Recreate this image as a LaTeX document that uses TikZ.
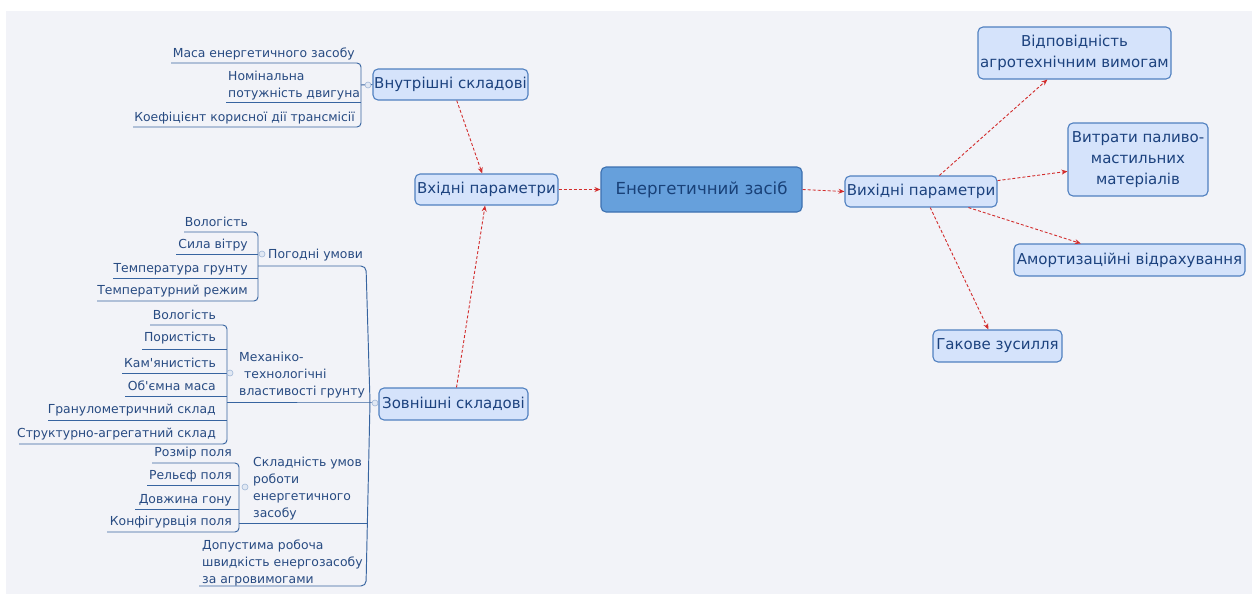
\documentclass[tikz,border=0pt]{standalone}
\usepackage{fontspec}
\newfontfamily\dv{DejaVu Sans}
\usetikzlibrary{arrows.meta,calc}
\definecolor{bgc}{RGB}{242,243,248}
\definecolor{boxfill}{RGB}{213,227,251}
\definecolor{boxdraw}{RGB}{80,128,192}
\definecolor{boxtext}{RGB}{28,66,126}
\definecolor{mainfill}{RGB}{102,160,220}
\definecolor{maindraw}{RGB}{60,112,176}
\definecolor{maintext}{RGB}{25,65,120}
\definecolor{treeline}{RGB}{55,100,160}
\definecolor{leaftext}{RGB}{40,75,130}
\definecolor{arrowred}{RGB}{210,45,45}
\definecolor{knobfill}{RGB}{225,232,243}
\definecolor{knobdraw}{RGB}{160,182,215}
\begin{document}
\begin{tikzpicture}[x=1pt,y=-1pt,
  box/.style={draw=boxdraw, fill=boxfill, line width=1.1pt, rounded corners=5pt, text=boxtext, font=\dv\fontsize{15}{21}\selectfont, align=center, inner sep=0pt},
  mainbox/.style={draw=maindraw, fill=mainfill, line width=1.1pt, rounded corners=5pt, text=maintext, font=\dv\fontsize{16.6}{20}\selectfont, inner sep=0pt},
  leaf/.style={text=leaftext, font=\dv\fontsize{12.4}{17}\selectfont, inner sep=0pt, align=left},
  tree/.style={draw=treeline, line width=0.95pt, rounded corners=4pt},
  knob/.style={circle, draw=knobdraw, fill=knobfill, minimum size=6pt, inner sep=0pt, line width=0.6pt},
  flow/.style={draw=arrowred, line width=0.9pt, dash pattern=on 3pt off 2pt, -{Stealth[length=6pt,width=5pt]}},
]
\useasboundingbox (0,0) rectangle (1252,594);
\fill[white] (0,0) rectangle (1252,594);
\fill[bgc] (6,11) rectangle (1252,594);

% main boxes
\node[mainbox, minimum width=201pt, minimum height=45pt] (main) at (701.5,189.5) {Енергетичний засіб};
\node[box, minimum width=143pt, minimum height=31pt] (vkh) at (486.5,189.5) {Вхідні параметри};
\node[box, minimum width=152pt, minimum height=31pt] (vykh) at (921,191.5) {Вихідні параметри};
\node[box, minimum width=155pt, minimum height=31pt] (vnut) at (450.5,84.5) {Внутрішні складові};
\node[box, minimum width=149pt, minimum height=32pt] (zovn) at (453.5,404) {Зовнішні складові};
\node[box, minimum width=193pt, minimum height=52pt] (vidp) at (1074.5,53) {Відповідність\\агротехнічним вимогам};
\node[box, minimum width=140pt, minimum height=73pt] (vytr) at (1138,159.5) {Витрати паливо-\\мастильних\\матеріалів};
\node[box, minimum width=231pt, minimum height=32pt] (amort) at (1129.5,260) {Амортизаційні відрахування};
\node[box, minimum width=129pt, minimum height=32pt] (hak) at (997.5,346) {Гакове зусилля};

% flow arrows
\draw[flow] ($(vnut.south west)!0.54!(vnut.south east)$) -- ($(vkh.north west)!0.47!(vkh.north east)$);
\draw[flow] ($(zovn.north west)!0.52!(zovn.north east)$) -- ($(vkh.south west)!0.49!(vkh.south east)$);
\draw[flow] (vkh.east) -- (main.west);
\draw[flow] (main.east) -- (vykh.west);
\draw[flow] ($(vykh.north west)!0.62!(vykh.north east)$) -- ($(vidp.south west)!0.36!(vidp.south east)$);
\draw[flow] ($(vykh.north east)!0.16!(vykh.south east)$) -- ($(vytr.north west)!0.66!(vytr.south west)$);
\draw[flow] ($(vykh.south west)!0.81!(vykh.south east)$) -- ($(amort.north west)!0.29!(amort.north east)$);
\draw[flow] ($(vykh.south west)!0.56!(vykh.south east)$) -- ($(hak.north west)!0.43!(hak.north east)$);

% internal components
\node[leaf, anchor=base east] (i1) at (355,57) {Маса енергетичного засобу};
\node[leaf, anchor=west] (i2) at (228,86) {Номінальна\\потужність двигуна};
\node[leaf, anchor=base east] (i3) at (355,121) {Коефіцієнт корисної дії трансмісії};
\draw[tree] (171,63) -- (361,63) -- (361,127) -- (133,127);
\draw[tree] (226,102) -- (361,102);
\draw[tree] (361,85) -- (vnut.west);
\node[knob] (k1) at (368,85) {};

% weather
\node[leaf, anchor=base east] (w1) at (248,226) {Вологість};
\node[leaf, anchor=base east] (w2) at (248,248) {Сила вітру};
\node[leaf, anchor=base east] (w3) at (248,272) {Температура грунту};
\node[leaf, anchor=base east] (w4) at (248,294) {Температурний режим};
\draw[tree] (184,232) -- (258,232) -- (258,301) -- (97,301);
\draw[tree] (176,254) -- (258,254);
\draw[tree] (113,278) -- (258,278);
\node[knob] (k2) at (262,254) {};
\node[leaf, anchor=base west] (pog) at (268,258) {Погодні умови};

% spine of external components
\draw[tree, rounded corners=5pt] (258,266) -- (366,266) -- (370,402) -- (366,586) -- (199,586);
\draw[tree] (227,402) -- (370,402) -- (zovn.west |- 0,402);
\draw[tree] (239,523) -- (368,523);
\node[knob] (k3) at (375,403) {};

% soil properties
\node[leaf, anchor=base east] (m1) at (216,319) {Вологість};
\node[leaf, anchor=base east] (m2) at (216,341) {Пористість};
\node[leaf, anchor=base east] (m3) at (216,367) {Кам'янистість};
\node[leaf, anchor=base east] (m4) at (216,390) {Об'ємна маса};
\node[leaf, anchor=base east] (m5) at (216,413.5) {Гранулометричний склад};
\node[leaf, anchor=base east] (m6) at (216,437) {Структурно-агрегатний склад};
\draw[tree] (150,325) -- (227,325) -- (227,444) -- (19,444);
\draw[tree] (142,349) -- (227,349);
\draw[tree] (122,373) -- (227,373);
\draw[tree] (125,396) -- (227,396);
\draw[tree] (48,420.5) -- (227,420.5);
\node[knob] (k4) at (230,373) {};
\node[leaf, anchor=west] (mech) at (239,375) {Механіко-\\\hspace*{5pt}технологічні\\властивості грунту};

% working conditions
\node[leaf, anchor=base east] (s1) at (232,456) {Розмір поля};
\node[leaf, anchor=base east] (s2) at (232,479) {Рельєф поля};
\node[leaf, anchor=base east] (s3) at (232,503) {Довжина гону};
\node[leaf, anchor=base east] (s4) at (232,525) {Конфігурвція поля};
\draw[tree] (152,463) -- (239,463) -- (239,532) -- (107,532);
\draw[tree] (147,485) -- (239,485);
\draw[tree] (135,509) -- (239,509);
\node[knob] (k5) at (245,487) {};
\node[leaf, anchor=west] (skl) at (253,489) {Складність умов\\роботи\\енергетичного\\засобу};

% speed
\node[leaf, anchor=west] (dop) at (202,563) {Допустима робоча\\швидкість енергозасобу\\за агровимогами};
\end{tikzpicture}
\end{document}
